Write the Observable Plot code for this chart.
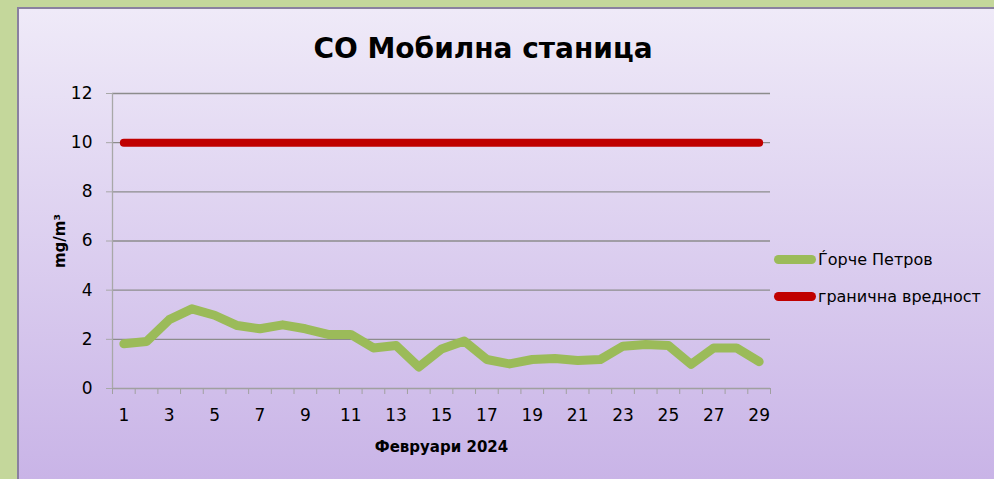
<!DOCTYPE html>
<html><head><meta charset="utf-8">
<script src="https://cdn.jsdelivr.net/npm/d3@7"></script>
<script src="https://cdn.jsdelivr.net/npm/@observablehq/plot@0.6"></script>
<style>
html,body{margin:0;padding:0}
body{background:#c4d79b;width:994px;height:479px;overflow:hidden;position:relative;font-family:"DejaVu Sans",sans-serif;color:#000}
#panel{position:absolute;left:17px;top:7px;width:977px;height:472px;box-sizing:border-box;border-left:2px solid #8a80a0;border-top:2px solid #8a80a0;background:linear-gradient(#efeaf8,#c9b4e7)}
#title{position:absolute;left:233px;width:500px;top:31px;text-align:center;font-weight:bold;font-size:28px;line-height:36px}
#chart{position:absolute;left:0;top:0}
.leg{position:absolute;left:774px;height:20px;display:flex;align-items:center;font-size:16px;white-space:nowrap}
.sw{width:42px;height:9px;border-radius:5px;margin-right:2px}
</style></head>
<body>
<div id="panel"></div>
<div id="title">CO Мобилна станица</div>
<div id="chart"></div>
<div id="legend"></div>
<script>
const days = d3.range(1, 30);
const gorcePetrov = [1.82,1.91,2.80,3.24,2.98,2.56,2.43,2.59,2.43,2.20,2.20,1.65,1.75,0.87,1.61,1.93,1.18,1.00,1.18,1.22,1.14,1.18,1.72,1.79,1.75,0.98,1.65,1.65,1.09];
const limitValue = days.map(() => 10);
const yTicks = [0,2,4,6,8,10,12];
const xTickLabels = [1,3,5,7,9,11,13,15,17,19,21,23,25,27,29];
const seriesNames = ["Ѓорче Петров", "гранична вредност"];
const seriesColors = ["#9bbb59", "#c00000"];
const xLabel = "Февруари 2024";

const xDomain = [days[0] - 0.5, days[days.length - 1] + 0.5];
const boundaries = days.map(d => d - 0.5).concat([xDomain[1]]);
const rows = days.map((d, i) => ({day: d, v: gorcePetrov[i], lim: limitValue[i]}));
const font = '"DejaVu Sans",sans-serif';

const chart = Plot.plot({
  width: 994, height: 479,
  marginLeft: 112, marginRight: 224, marginTop: 93, marginBottom: 91,
  style: {background: "transparent", fontFamily: font, fontSize: "17px", color: "#000", overflow: "visible"},
  x: {type: "linear", domain: xDomain},
  y: {domain: [0, 12]},
  marks: [
    Plot.ruleY(yTicks.filter(t => t > 0), {stroke: "#8c8c8c", strokeWidth: 1.3}),
    Plot.ruleY([0], {stroke: "#a0a0a0", strokeWidth: 1.3}),
    Plot.ruleX([xDomain[0]], {stroke: "#a8a8a8", strokeWidth: 1.3}),
    Plot.axisY({ticks: yTicks, tickSize: 6, tickPadding: 14, stroke: "#a8a8a8", fontSize: 17, label: null}),
    Plot.axisX({ticks: boundaries, tickSize: 6, tickFormat: () => "", stroke: "#a0a0a0", label: null}),
    Plot.axisX({ticks: xTickLabels, tickSize: 0, tickPadding: 20, fontSize: 17, label: null}),
    Plot.line(rows, {x: "day", y: "v", stroke: seriesColors[0], strokeWidth: 9, strokeLinecap: "round", strokeLinejoin: "round"}),
    Plot.line(rows, {x: "day", y: "lim", stroke: seriesColors[1], strokeWidth: 8, strokeLinecap: "round", strokeLinejoin: "round"}),
    Plot.text([xLabel], {frameAnchor: "bottom", dy: 63, fontWeight: "bold", fontSize: 15, text: d => d}),
    Plot.text(["mg/m³"], {frameAnchor: "left", dx: -52, rotate: -90, textAnchor: "middle", fontWeight: "bold", fontSize: 15, text: d => d})
  ]
});
document.getElementById("chart").appendChild(chart);

const legend = document.getElementById("legend");
seriesNames.forEach((name, i) => {
  const row = document.createElement("div");
  row.className = "leg";
  row.style.top = (249 + i * 37) + "px";
  const sw = document.createElement("div");
  sw.className = "sw";
  sw.style.background = seriesColors[i];
  row.appendChild(sw);
  row.appendChild(document.createTextNode(name));
  legend.appendChild(row);
});
</script>
</body></html>
